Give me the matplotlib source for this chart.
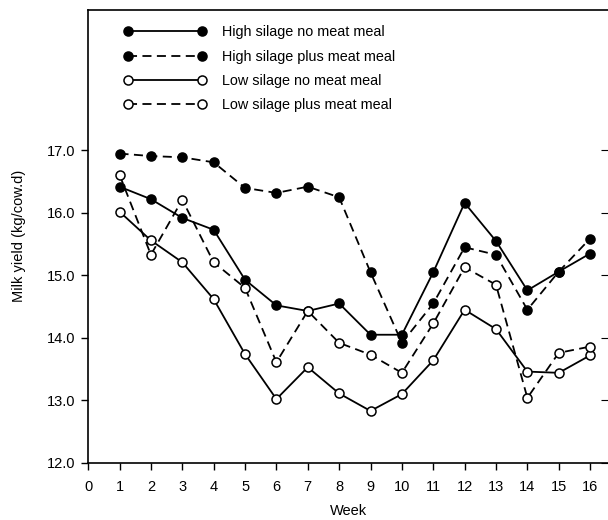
import matplotlib.pyplot as plt

plt.rcParams["font.family"] = ["Liberation Sans", "DejaVu Sans"]
plt.rcParams["font.size"] = 10

weeks = list(range(1, 17))

high_no_meat = [16.42, 16.22, 15.92, 15.73, 14.93, 14.52, 14.43, 14.55,
                14.05, 14.05, 15.05, 16.16, 15.55, 14.76, 15.06, 15.35]
high_plus_meat = [16.95, 16.91, 16.89, 16.81, 16.40, 16.32, 16.42, 16.25,
                  15.05, 13.92, 14.55, 15.45, 15.33, 14.45, 15.06, 15.59]
low_no_meat = [16.02, 15.56, 15.21, 14.62, 13.74, 13.02, 13.53, 13.11,
               12.83, 13.10, 13.64, 14.45, 14.14, 13.46, 13.44, 13.72]
low_plus_meat = [16.61, 15.33, 16.21, 15.21, 14.80, 13.61, 14.43, 13.92,
                 13.73, 13.44, 14.23, 15.13, 14.85, 13.04, 13.76, 13.86]

labels = ["High silage no meat meal", "High silage plus meat meal",
          "Low silage no meat meal", "Low silage plus meat meal"]

fig = plt.figure(figsize=(6.08, 5.2), dpi=100)
ax = fig.add_axes([0.145, 0.11, 0.855, 0.871])

dash = (0, (5, 3))
common = dict(color="black", lw=1.3, marker="o", markersize=6.5, markeredgewidth=1.1)
ax.plot(weeks, high_no_meat, linestyle="-", markerfacecolor="black", label=labels[0], zorder=3, **common)
ax.plot(weeks, high_plus_meat, linestyle=dash, markerfacecolor="black", label=labels[1], zorder=3, **common)
ax.plot(weeks, low_no_meat, linestyle="-", markerfacecolor="white", label=labels[2], zorder=4, **common)
ax.plot(weeks, low_plus_meat, linestyle=dash, markerfacecolor="white", label=labels[3], zorder=4, **common)

ax.set_xlim(0, 16.57)
ax.set_ylim(12.0, 19.25)
ax.set_xticks(range(0, 17))
ax.set_yticks([12, 13, 14, 15, 16, 17])
ax.set_yticklabels(["12.0", "13.0", "14.0", "15.0", "16.0", "17.0"])
ax.tick_params(direction="out", length=5, width=1, labelsize=10.5, pad=4)
ax.tick_params(axis="x", pad=7.5)

ax.spines["right"].set_visible(False)
for s in ["left", "bottom", "top"]:
    ax.spines[s].set_linewidth(1.2)

right = ax.secondary_yaxis("right")
right.set_yticks([12, 13, 14, 15, 16, 17])
right.tick_params(direction="in", length=5, labelright=False)
right.spines["right"].set_visible(False)

ax.set_xlabel("Week", fontsize=10.5, labelpad=7)
ax.set_ylabel("Milk yield (kg/cow.d)", fontsize=10.5, labelpad=15)

ax.legend(loc="upper left", bbox_to_anchor=(0.069, 0.966), frameon=False,
          numpoints=2, handlelength=5.7, handletextpad=1.1, labelspacing=0.72,
          borderpad=0, borderaxespad=0, fontsize=10.4)

fig.savefig("out.png", dpi=100)
